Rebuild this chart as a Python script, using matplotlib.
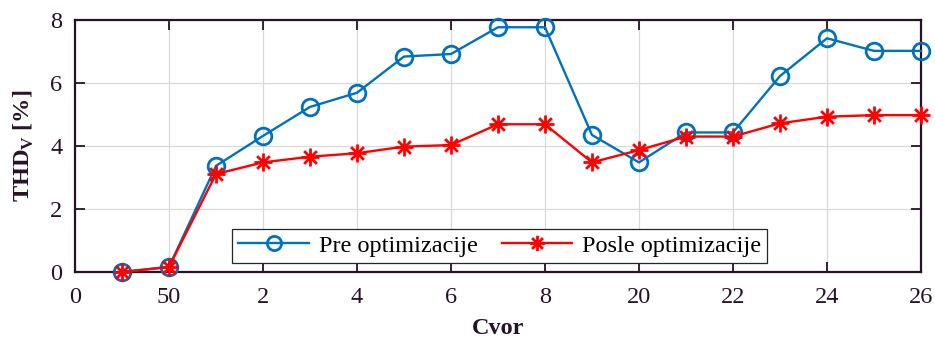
import matplotlib.pyplot as plt
from matplotlib.path import Path

plt.rcParams['font.family'] = ['Liberation Serif', 'DejaVu Serif']
plt.rcParams['mathtext.fontset'] = 'custom'
plt.rcParams['mathtext.rm'] = 'Liberation Serif'
plt.rcParams['mathtext.bf'] = 'Liberation Serif:bold'

node = list(range(1, 19))
pre = [0, 0.16, 3.37, 4.32, 5.24, 5.69, 6.84, 6.92, 7.77, 7.77,
       4.35, 3.48, 4.43, 4.43, 6.22, 7.42, 7.02, 7.02]
posle = [0, 0.16, 3.11, 3.48, 3.66, 3.77, 3.98, 4.03, 4.69, 4.69,
         3.48, 3.87, 4.30, 4.30, 4.72, 4.93, 4.98, 4.98]
xtick_pos = [0, 2, 4, 6, 8, 10, 12, 14, 16, 18]
xtick_lab = ['0', '50', '2', '4', '6', '8', '20', '22', '24', '26']

dark = '#261326'
blue = '#0072BD'
red = '#FF0000'
fs = 17.5

# asterisk marker like MATLAB's '*'
d = 0.7071
star = Path([(-1, 0), (1, 0), (0, -1), (0, 1), (-d, -d), (d, d), (-d, d), (d, -d)],
            [Path.MOVETO, Path.LINETO] * 4)

fig = plt.figure(figsize=(9.35, 3.38), dpi=100)
ax = fig.add_axes([0.0802, 0.1953, 0.9048, 0.7455])

ax.plot(node, pre, color=blue, lw=1.7, marker='o', ms=12, mfc='none',
        mew=2.0, label='Pre optimizacije', clip_on=False, zorder=3)
ax.plot(node, posle, color=red, lw=1.7, marker=star, ms=13, mew=2.0,
        label='Posle optimizacije', clip_on=False, zorder=4)

ax.set_xlim(0, 18)
ax.set_ylim(0, 8)
ax.set_xticks(xtick_pos)
ax.set_xticklabels(xtick_lab)
ax.set_yticks([0, 2, 4, 6, 8])
ax.grid(True, color='#d9d9d9', lw=0.9)
ax.set_axisbelow(True)
ax.tick_params(direction='in', length=7, width=1.3, top=True, right=True,
               labelsize=fs, colors=dark)
ax.tick_params(axis='x', pad=11)
ax.tick_params(axis='y', pad=9)
for s in ax.spines.values():
    s.set_color(dark)
    s.set_linewidth(1.6)

ax.set_xlabel('Cvor', fontsize=fs, fontweight='bold', color=dark, labelpad=7)
ax.set_ylabel(r'THD$_\mathbf{V}$ [%]', fontsize=fs, fontweight='bold',
              color=dark, labelpad=10)

leg = ax.legend(loc='lower center', bbox_to_anchor=(0.502, -0.012), ncol=2,
                fontsize=fs, fancybox=False, framealpha=1, edgecolor='#262626',
                handlelength=2.9, columnspacing=1.0, borderpad=0.25,
                handletextpad=0.4, markerscale=0.85)
leg.get_frame().set_linewidth(0.9)

fig.savefig('out.png', dpi=100)
